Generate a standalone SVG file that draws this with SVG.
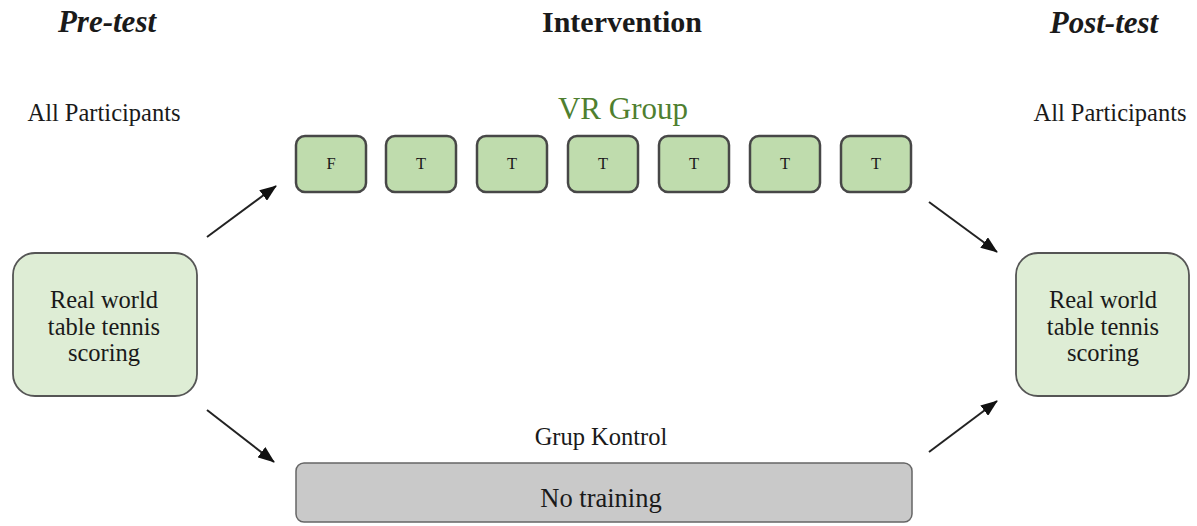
<svg xmlns="http://www.w3.org/2000/svg" width="1197" height="526" viewBox="0 0 1197 526">
<defs>
<marker id="ah" markerWidth="17" markerHeight="13" refX="16" refY="6.5" orient="auto" markerUnits="userSpaceOnUse" viewBox="0 0 17 13">
<path d="M0,0 L17,6.5 L0,13 z" fill="#111"/>
</marker>
<style>
text{font-family:"Liberation Serif","Times New Roman",serif;fill:#1a1a1a}
.h{font-size:30px;font-weight:bold}
.hi{font-size:31px;font-style:italic}
.lbl{font-size:24.5px}
.big{fill:#deedd5;stroke:#555;stroke-width:1.8}
.sm{fill:#bfdcad;stroke:#474747;stroke-width:2.5}
.gray{fill:#c9c9c9;stroke:#666;stroke-width:1.5}
.con{stroke:#222;stroke-width:2;fill:none;marker-end:url(#ah)}
.bt{font-size:16.5px}
</style>
</defs>
<rect width="1197" height="526" fill="#fff"/>
<g id="headers">
<text class="h hi" x="107" y="32" text-anchor="middle">Pre-test</text>
<text class="h" x="622" y="32" text-anchor="middle">Intervention</text>
<text class="h hi" x="1104" y="33" text-anchor="middle">Post-test</text>
<text class="lbl" x="104" y="121" text-anchor="middle">All Participants</text>
<text class="lbl" x="1110" y="121" text-anchor="middle">All Participants</text>
<text x="623" y="119" text-anchor="middle" style="font-size:31px;fill:#4f7f30">VR Group</text>
<text class="lbl" x="601" y="445" text-anchor="middle">Grup Kontrol</text>
</g>
<g id="pre">
<rect class="big" x="13" y="253" width="184" height="143" rx="22"/>
<text class="lbl" x="104" y="308" text-anchor="middle">Real world</text>
<text class="lbl" x="104" y="335" text-anchor="middle">table tennis</text>
<text class="lbl" x="104" y="361" text-anchor="middle">scoring</text>
</g>
<g id="post">
<rect class="big" x="1016" y="253" width="173" height="143" rx="22"/>
<text class="lbl" x="1103" y="308" text-anchor="middle">Real world</text>
<text class="lbl" x="1103" y="335" text-anchor="middle">table tennis</text>
<text class="lbl" x="1103" y="361" text-anchor="middle">scoring</text>
</g>
<g id="vr1"><rect class="sm" x="296" y="136" width="70" height="56" rx="9"/><text class="bt" x="331" y="169" text-anchor="middle">F</text></g>
<g id="vr2"><rect class="sm" x="386" y="136" width="70" height="56" rx="9"/><text class="bt" x="421" y="169" text-anchor="middle">T</text></g>
<g id="vr3"><rect class="sm" x="477" y="136" width="70" height="56" rx="9"/><text class="bt" x="512" y="169" text-anchor="middle">T</text></g>
<g id="vr4"><rect class="sm" x="568" y="136" width="70" height="56" rx="9"/><text class="bt" x="603" y="169" text-anchor="middle">T</text></g>
<g id="vr5"><rect class="sm" x="659" y="136" width="70" height="56" rx="9"/><text class="bt" x="694" y="169" text-anchor="middle">T</text></g>
<g id="vr6"><rect class="sm" x="750" y="136" width="70" height="56" rx="9"/><text class="bt" x="785" y="169" text-anchor="middle">T</text></g>
<g id="vr7"><rect class="sm" x="841" y="136" width="70" height="56" rx="9"/><text class="bt" x="876" y="169" text-anchor="middle">T</text></g>
<g id="control">
<rect class="gray" x="296" y="463" width="616" height="59" rx="8"/>
<text x="601" y="507" text-anchor="middle" font-size="26.5">No training</text>
</g>
<g id="connectors">
<line class="con" x1="207" y1="237" x2="276" y2="186"/>
<line class="con" x1="207" y1="410" x2="274" y2="462"/>
<line class="con" x1="929" y1="202" x2="997" y2="252"/>
<line class="con" x1="929" y1="452" x2="997" y2="401"/>
</g>
</svg>
